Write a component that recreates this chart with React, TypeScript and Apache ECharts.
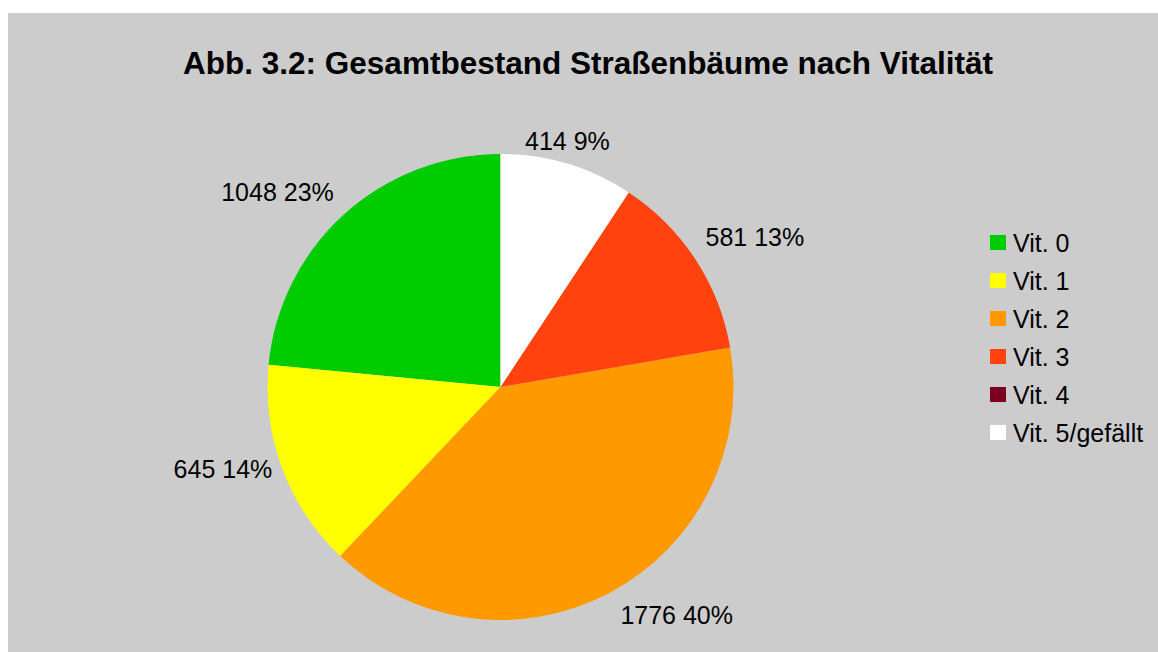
import React, { useEffect, useRef } from "react";
import * as echarts from "echarts";

const titleText = "Abb. 3.2: Gesamtbestand Straßenbäume nach Vitalität";
const categories = ["Vit. 0", "Vit. 1", "Vit. 2", "Vit. 3", "Vit. 4", "Vit. 5/gefällt"];
const values = [1048, 645, 1776, 581, 0, 414];
const colors = ["#00CC00", "#FFFF00", "#FF9900", "#FF420E", "#7E0021", "#FFFFFF"];

const CX = 492.5;
const CY = 374;
const R = 233;
const GAP = 10;

export default function App() {
  const ref = useRef<HTMLDivElement>(null);
  useEffect(() => {
    if (!ref.current) return;
    const chart = echarts.init(ref.current, null, { renderer: "svg" });
    const total = values.reduce((a, b) => a + b, 0);
    const data = categories.map((name, i) => ({
      name,
      value: values[i],
      itemStyle: { color: colors[i] },
      label: { show: values[i] > 0 },
    }));
    chart.setOption({
      animation: false,
      backgroundColor: "#CCCCCC",
      title: {
        text: titleText,
        left: 575,
        top: 29,
        textAlign: "center",
        textStyle: {
          fontFamily: "Liberation Sans, Arial, sans-serif",
          fontSize: 31.5,
          fontWeight: "bold",
          color: "#000000",
        },
      },
      legend: {
        orient: "vertical",
        left: 977,
        top: 212,
        data: categories,
        icon: "rect",
        itemWidth: 16,
        itemHeight: 15,
        itemGap: 13,
        textStyle: {
          fontFamily: "Liberation Sans, Arial, sans-serif",
          fontSize: 25,
          color: "#000000",
          padding: [0, 0, 0, 2],
        },
      },
      series: [
        {
          type: "pie",
          center: [CX, CY],
          radius: R,
          startAngle: 90,
          clockwise: false,
          data,
          itemStyle: { borderWidth: 0 },
          emphasis: { disabled: true },
          label: {
            show: true,
            position: "outside",
            fontFamily: "Liberation Sans, Arial, sans-serif",
            fontSize: 25,
            color: "#000000",
            formatter: (p: any) => `${p.value} ${Math.round(p.percent)}%`,
          },
          labelLine: { show: false },
          labelLayout: (params: any) => {
            const i = params.dataIndex;
            if (values[i] === 0) return {};
            let before = 0;
            for (let k = 0; k < i; k++) before += values[k];
            const mid = (before + values[i] / 2) / total;
            const theta = ((90 + mid * 360) * Math.PI) / 180;
            const ux = Math.cos(theta);
            const uy = -Math.sin(theta);
            const px = CX + R * ux;
            const py = CY + R * uy;
            const t = Math.sin(Math.PI / 8);
            const sx = Math.abs(ux) < t ? 0 : Math.sign(ux);
            const sy = Math.abs(uy) < t ? 0 : Math.sign(uy);
            return {
              x: px + sx * GAP,
              y: py + sy * GAP,
              align: sx > 0 ? "left" : sx < 0 ? "right" : "center",
              verticalAlign: sy > 0 ? "top" : sy < 0 ? "bottom" : "middle",
            };
          },
        },
      ],
    });
    return () => chart.dispose();
  }, []);
  return (
    <div
      ref={ref}
      style={{ position: "absolute", left: 8, top: 13, width: 1150, height: 639 }}
    />
  );
}
